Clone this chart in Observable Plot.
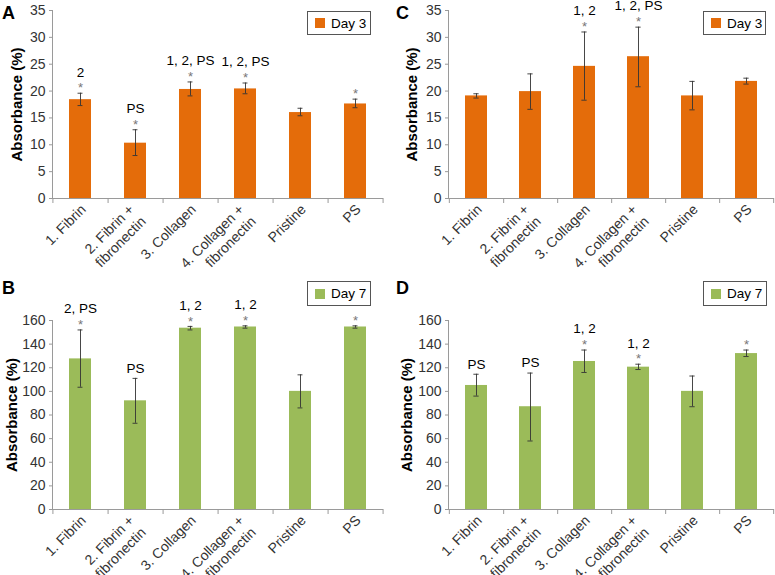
<!DOCTYPE html>
<html><head><meta charset="utf-8">
<script src="https://cdn.jsdelivr.net/npm/d3@7"></script>
<script src="https://cdn.jsdelivr.net/npm/@observablehq/plot@0.6"></script>
<style>
body{margin:0;background:#fff;font-family:"Liberation Sans",Arial,sans-serif;}
#wrap{position:relative;width:775px;height:575px;overflow:hidden;background:#fff;}
.panel{position:absolute;}
.legend{position:absolute;border:1px solid #555;box-sizing:border-box;background:#fff;font-size:13.5px;color:#000;display:flex;align-items:center;padding-left:7px;}
.legend .sw{display:inline-block;width:10px;height:10px;margin-right:6px;}
</style></head><body><div id="wrap"></div>
<script>
const categories = ["1. Fibrin", "2. Fibrin +\nfibronectin", "3. Collagen", "4. Collagen +\nfibronectin", "Pristine", "PS"];
const day3Color = "#E46C0A";
const day7Color = "#9BBB59";

// Panel A (Day 3)
const aValues = [18.4, 10.3, 20.3, 20.4, 16.0, 17.6];
const aLow    = [17.3, 8.0, 19.1, 19.5, 15.4, 16.9];
const aHigh   = [19.6, 12.8, 21.7, 21.5, 16.8, 18.5];
const aStars  = [true, true, true, true, false, true];
const aLabels = ["2", "PS", "1, 2, PS", "1, 2, PS", "", ""];

// Panel B (Day 7)
const bValues = [127.5, 92.0, 153.5, 154.5, 100.0, 154.5];
const bLow    = [103.5, 73.0, 152.0, 153.5, 86.0, 153.5];
const bHigh   = [152.0, 111.0, 155.0, 155.5, 114.0, 155.5];
const bStars  = [true, false, true, true, false, true];
const bLabels = ["2, PS", "PS", "1, 2", "1, 2", "", ""];

// Panel C (Day 3)
const cValues = [19.1, 19.9, 24.6, 26.4, 19.1, 21.8];
const cLow    = [18.7, 16.6, 18.3, 20.8, 16.5, 21.3];
const cHigh   = [19.5, 23.2, 31.0, 31.9, 21.8, 22.4];
const cStars  = [false, false, true, true, false, false];
const cLabels = ["", "", "1, 2", "1, 2, PS", "", ""];

// Panel D (Day 7)
const dValues = [105.0, 87.0, 125.3, 120.5, 100.0, 132.0];
const dLow    = [96.0, 58.0, 116.0, 118.5, 87.0, 129.5];
const dHigh   = [114.5, 115.5, 135.0, 123.0, 113.0, 135.0];
const dStars  = [false, false, true, true, false, true];
const dLabels = ["PS", "PS", "1, 2", "1, 2", "", ""];

const yTicks3 = [0, 5, 10, 15, 20, 25, 30, 35];
const yTicks7 = [0, 20, 40, 60, 80, 100, 120, 140, 160];

const font = "'Liberation Sans', Arial, sans-serif";
const axisGray = "#9a9a9a";

function makePanel(o) {
  const data = categories.map((c, i) => ({c, v: o.values[i], lo: o.low[i], hi: o.high[i], star: o.stars[i], label: o.labels[i]}));
  const plotW = o.width - o.ml - o.mr;
  const bandStep = plotW / categories.length;
  const bw = bandStep * 0.4;
  const capInset = (bw - 5) / 2;
  const yMax = o.ticks[o.ticks.length - 1];
  const oneLine = categories.filter(c => !c.includes("\n"));
  const twoLine = categories.filter(c => c.includes("\n"));
  return Plot.plot({
    width: o.width, height: o.height,
    marginLeft: o.ml, marginRight: o.mr, marginTop: o.mt, marginBottom: o.mb,
    style: {fontFamily: font, fontSize: "14px", background: "transparent", overflow: "visible"},
    x: {domain: categories, paddingInner: 0.6, paddingOuter: 0.3, axis: null},
    y: {domain: [0, yMax], axis: null},
    marks: [
      Plot.barY(data, {x: "c", y: "v", fill: o.color}),
      Plot.ruleX(data, {x: "c", y1: "lo", y2: "hi", stroke: "#333", strokeWidth: 0.9}),
      Plot.tickY(data, {x: "c", y: "lo", stroke: "#333", strokeWidth: 0.9, insetLeft: capInset, insetRight: capInset}),
      Plot.tickY(data, {x: "c", y: "hi", stroke: "#333", strokeWidth: 0.9, insetLeft: capInset, insetRight: capInset}),
      Plot.ruleY([0], {stroke: axisGray}),
      Plot.frame({anchor: "left", stroke: axisGray}),
      Plot.axisY({ticks: o.ticks, tickSize: 3, tickPadding: 4, stroke: axisGray, fill: "#333", fontSize: 14, label: null}),
      Plot.axisX({tickSize: 5, text: null, label: null, dx: bandStep / 2, stroke: axisGray}),
      Plot.axisX({ticks: [categories[0]], tickSize: 5, text: null, label: null, dx: -bandStep / 2, stroke: axisGray}),
      Plot.text(oneLine, {x: d => d, text: d => d, frameAnchor: "bottom", dy: 8.5, dx: 3, rotate: -45, textAnchor: "end", lineAnchor: "middle", fontSize: 14, fill: "#333"}),
      Plot.text(twoLine, {x: d => d, text: d => d, frameAnchor: "bottom", dy: 14, dx: 1.5, rotate: -45, textAnchor: "end", lineAnchor: "middle", lineHeight: 1.2, fontSize: 14, fill: "#333"}),
      Plot.text(["Absorbance (%)"], {frameAnchor: "left", dx: -o.labelOffset, rotate: -90, textAnchor: "middle", lineAnchor: "middle", fontWeight: "bold", fontSize: 15, fill: "#000"}),
      Plot.text(data.filter(d => d.star), {x: "c", y: "hi", text: () => "*", dy: -5, fill: "#777", fontSize: 13}),
      Plot.text(data.filter(d => d.star && d.label), {x: "c", y: "hi", text: "label", dy: -21, fill: "#000", fontSize: 13.5}),
      Plot.text(data.filter(d => !d.star && d.label), {x: "c", y: "hi", text: "label", dy: -10, fill: "#000", fontSize: 13.5})
    ]
  });
}

const wrap = document.getElementById("wrap");
const panels = [
  {left: 0, top: 0, width: 387, height: 285, ml: 52, mr: 4, mt: 10, mb: 87, values: aValues, low: aLow, high: aHigh, stars: aStars, labels: aLabels, color: day3Color, ticks: yTicks3, labelOffset: 35, letter: "A", legend: "Day 3", lg: [307, 11, 64, 24]},
  {left: 385, top: 0, width: 390, height: 285, ml: 63, mr: 1, mt: 10, mb: 87, values: cValues, low: cLow, high: cHigh, stars: cStars, labels: cLabels, color: day3Color, ticks: yTicks3, labelOffset: 36, letter: "C", legend: "Day 3", lg: [703, 11, 63, 24]},
  {left: 0, top: 285, width: 387, height: 290, ml: 52, mr: 4, mt: 35, mb: 66, values: bValues, low: bLow, high: bHigh, stars: bStars, labels: bLabels, color: day7Color, ticks: yTicks7, labelOffset: 40, letter: "B", legend: "Day 7", lg: [307, 281, 64, 25]},
  {left: 385, top: 285, width: 390, height: 290, ml: 63, mr: 1, mt: 35, mb: 66, values: dValues, low: dLow, high: dHigh, stars: dStars, labels: dLabels, color: day7Color, ticks: yTicks7, labelOffset: 41, letter: "D", legend: "Day 7", lg: [703, 281, 64, 25]}
];

for (const p of panels) {
  const div = document.createElement("div");
  div.className = "panel";
  div.style.left = p.left + "px";
  div.style.top = p.top + "px";
  div.appendChild(makePanel(p));
  wrap.appendChild(div);
}
for (const p of panels) {
  const lg = document.createElement("div");
  lg.className = "legend";
  lg.style.left = p.lg[0] + "px"; lg.style.top = p.lg[1] + "px";
  lg.style.width = p.lg[2] + "px"; lg.style.height = p.lg[3] + "px";
  lg.innerHTML = `<span class="sw" style="background:${p.color}"></span><span>${p.legend}</span>`;
  wrap.appendChild(lg);
}
// panel letters
const ns = "http://www.w3.org/2000/svg";
const ov = document.createElementNS(ns, "svg");
ov.setAttribute("width", 775); ov.setAttribute("height", 575);
ov.style.position = "absolute"; ov.style.left = "0"; ov.style.top = "0"; ov.style.pointerEvents = "none";
const letterPos = {A: [2, 19], C: [396, 19], B: [2, 294], D: [396, 294]};
for (const p of panels) {
  const t = document.createElementNS(ns, "text");
  t.setAttribute("x", letterPos[p.letter][0]); t.setAttribute("y", letterPos[p.letter][1]);
  t.setAttribute("font-family", font); t.setAttribute("font-weight", "bold"); t.setAttribute("font-size", "18");
  t.textContent = p.letter;
  ov.appendChild(t);
}
wrap.appendChild(ov);
</script></body></html>
